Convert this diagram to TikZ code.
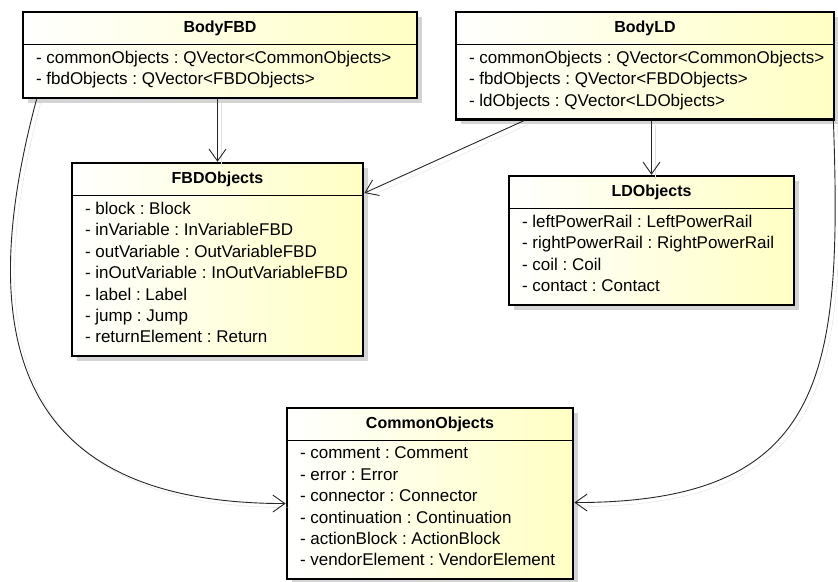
\documentclass[tikz,border=0pt]{standalone}
\usepackage{fontspec}
\setmainfont{Liberation Sans}
\frenchspacing
\definecolor{umlyellow}{RGB}{255,255,196}
\definecolor{umlshadow}{RGB}{212,212,212}
\usetikzlibrary{arrows.meta,positioning,fit,backgrounds,shadows}

\begin{document}
\begin{tikzpicture}[x=1pt, y=-1pt,
    hdr/.style={rectangle, anchor=north, minimum height=32pt, inner sep=0pt,
                font=\fontsize{16}{20}\selectfont\bfseries},
    attr/.style={rectangle, anchor=north west, align=left,
                 inner xsep=13pt, inner ysep=6.5pt,
                 font=\fontsize{17}{21.4}\selectfont,
                 execute at begin node=\strut, execute at end node=\strut},
    cls/.style={rectangle, draw, line width=2.4pt, inner sep=0pt,
                left color=white, right color=umlyellow,
                drop shadow={shadow xshift=5pt, shadow yshift=-5pt,
                             fill=umlshadow, opacity=1}},
    sep/.style={line width=0.9pt},
    assoc/.style={draw=black!85, line width=0.9pt,
                  -{Straight Barb[length=12pt, width=17pt]},
                  preaction={draw=umlshadow!70, arrows=-,
                             transform canvas={shift={(4pt,-4pt)}}}}
  ]
    \useasboundingbox (0,0) rectangle (838,581);

    % BodyFBD
    \node[hdr, minimum width=394pt] (bfbd) at (220,12) {BodyFBD};
    \node[attr] (bfbd-a) at (bfbd.south west)
      {- commonObjects : QVector<CommonObjects>\\
       - fbdObjects : QVector<FBDObjects>};

    % BodyLD
    \node[hdr, minimum width=378pt] (bld) at (645,12) {BodyLD};
    \node[attr] (bld-a) at (bld.south west)
      {- commonObjects : QVector<CommonObjects>\\
       - fbdObjects : QVector<FBDObjects>\\
       - ldObjects : QVector<LDObjects>};

    % FBDObjects
    \node[hdr, minimum width=291pt] (fbdo) at (217.5,163) {FBDObjects};
    \node[attr] (fbdo-a) at (fbdo.south west)
      {- block : Block\\
       - inVariable : InVariableFBD\\
       - outVariable : OutVariableFBD\\
       - inOutVariable : InOutVariableFBD\\
       - label : Label\\
       - jump : Jump\\
       - returnElement : Return};

    % LDObjects
    \node[hdr, minimum width=285pt] (ldo) at (651.5,176) {LDObjects};
    \node[attr] (ldo-a) at (ldo.south west)
      {- leftPowerRail : LeftPowerRail\\
       - rightPowerRail : RightPowerRail\\
       - coil : Coil\\
       - contact : Contact};

    % CommonObjects
    \node[hdr, minimum width=286pt] (com) at (430,408) {CommonObjects};
    \node[attr] (com-a) at (com.south west)
      {- comment : Comment\\
       - error : Error\\
       - connector : Connector\\
       - continuation : Continuation\\
       - actionBlock : ActionBlock\\
       - vendorElement : VendorElement};

    % Class frames
    \begin{scope}[on background layer]
      \node[cls, fit=(bfbd)(bfbd-a.south west)] (bfbd-box) {};
      \node[cls, fit=(bld)(bld-a.south west)]   (bld-box)  {};
      \node[cls, fit=(fbdo)(fbdo-a.south west)] (fbdo-box) {};
      \node[cls, fit=(ldo)(ldo-a.south west)]   (ldo-box)  {};
      \node[cls, fit=(com)(com-a.south west)]   (com-box)  {};
    \end{scope}
    \draw[sep] (bfbd.south west) -- (bfbd.south east);
    \draw[sep] (bld.south west)  -- (bld.south east);
    \draw[sep] (fbdo.south west) -- (fbdo.south east);
    \draw[sep] (ldo.south west)  -- (ldo.south east);
    \draw[sep] (com.south west)  -- (com.south east);

    % Associations
    \draw[assoc] (fbdo-box.north |- bfbd-box.south) -- (fbdo-box.north);
    \draw[assoc] (bld-box) -- (fbdo-box);
    \draw[assoc] (ldo-box.north |- bld-box.south) -- (ldo-box.north);
    \draw[assoc] ([xshift=15pt]bfbd-box.south west)
      to[out=255, in=180, looseness=1.4] ([yshift=-10pt]com-box.west);
    \draw[assoc] ([xshift=-2pt]bld-box.south east)
      to[out=272, in=0, looseness=1.4] ([yshift=-9pt]com-box.east);
  \end{tikzpicture}
\end{document}
